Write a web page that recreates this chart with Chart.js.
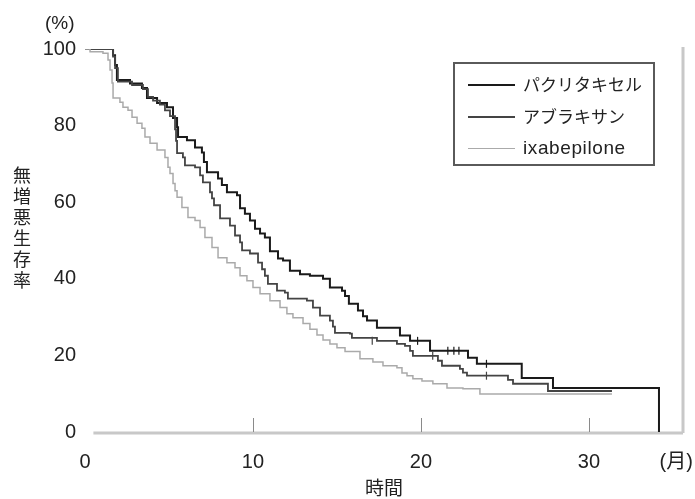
<!DOCTYPE html>
<html><head><meta charset="utf-8">
<script src="https://cdn.jsdelivr.net/npm/chart.js@4.4.1/dist/chart.umd.min.js"></script>
<style>
html,body{margin:0;padding:0;background:#fff;}
#wrap{position:relative;width:695px;height:499px;overflow:hidden;}
#c{position:absolute;left:0;top:0;}
.t{position:absolute;color:#222;font-family:"Liberation Sans",Arial,sans-serif;white-space:nowrap;}
#pct{left:45px;top:12px;font-size:19px;}
#ytitle{left:13px;top:166px;font-family:"Noto Sans CJK JP",sans-serif;font-size:18px;writing-mode:vertical-rl;letter-spacing:3px;line-height:18px;}
#legend{position:absolute;left:453px;top:62px;width:202px;height:104px;box-sizing:border-box;border:2px solid #5a5a5a;}
.row{position:absolute;left:0;width:100%;height:32px;}
.ln{position:absolute;left:13px;width:47px;top:15px;}
.lt{position:absolute;left:68px;top:3px;color:#222;}
.jp{font-family:"Noto Sans CJK JP",sans-serif;font-size:17px;line-height:24px;}
.en{font-family:"Liberation Sans",Arial,sans-serif;font-size:19px;letter-spacing:0.6px;line-height:24px;}
</style></head><body>
<div id="wrap">
<canvas id="c" width="695" height="499"></canvas>
<div class="t" id="pct">(%)</div>
<div class="t" id="ytitle">無増悪生存率</div>
<div id="legend">
  <div class="row" style="top:5px"><div class="ln" style="border-top:2px solid #1a1a1a"></div><div class="lt jp">パクリタキセル</div></div>
  <div class="row" style="top:37px"><div class="ln" style="border-top:2px solid #444"></div><div class="lt jp">アブラキサン</div></div>
  <div class="row" style="top:69px"><div class="ln" style="border-top:1.5px solid #aaa"></div><div class="lt en">ixabepilone</div></div>
</div>
</div>
<script>
// ---- data (months, % progression-free) ----
const seriesNames = ['パクリタキセル', 'アブラキサン', 'ixabepilone'];

const paclitaxelMonths = [0,1.67,1.79,1.9,2.68,3.39,3.69,4.29,4.88,5.24,5.48,5.54,6.07,6.55,6.96,7.08,7.26,7.92,8.15,8.45,9.05,9.23,9.52,9.82,10.12,10.42,10.71,11.01,11.49,11.79,12.2,12.8,13.39,14.17,14.58,15.3,15.48,15.71,16.25,16.55,16.79,17.38,18.75,19.35,20.54,22.8,23.33,26.0,27.86,34.17];
const paclitaxelPFS    = [100,98.4,95.8,91.9,91.0,89.8,87.2,85.9,84.8,82.0,79.6,77.0,76.2,74.3,73.0,70.5,67.8,66.2,64.5,62.6,61.8,58.4,57.0,55.2,53.1,51.8,50.8,47.2,45.3,44.8,42.1,41.2,40.8,40.0,37.7,36.9,35.5,33.5,31.7,30.2,29.1,27.2,25.2,23.8,21.2,19.4,17.8,14.1,11.5,0];

const abraxaneMonths = [0,1.67,1.79,1.96,2.8,3.45,3.75,4.05,4.46,4.76,5.06,5.36,5.42,5.48,5.83,5.95,6.55,6.85,7.02,7.44,7.56,7.68,8.04,8.63,8.93,9.23,9.35,9.82,10.3,10.54,10.71,10.89,11.43,11.9,12.08,13.21,13.57,13.99,14.58,14.76,14.88,15.77,15.89,17.38,18.57,19.05,19.35,19.52,21.01,21.25,22.32,22.5,22.74,25.18,25.48,27.56,31.37];
const abraxanePFS    = [100,98.0,95.0,91.5,90.6,89.5,87.5,86.5,85.5,84.0,82.5,79.0,76.0,72.8,71.7,69.6,69.1,67.0,65.2,62.6,61.0,59.2,55.8,53.9,51.3,49.5,47.4,46.6,44.2,42.5,40.8,38.7,36.9,36.4,34.8,34.3,32.5,30.4,29.1,27.5,25.9,25.7,24.6,23.8,23.0,22.5,21.2,19.9,18.6,17.3,16.5,15.5,14.7,13.6,12.6,10.7,10.7];

const ixabepiloneMonths = [0,0.3,1.07,1.37,1.49,1.61,1.67,2.08,2.26,2.56,2.8,3.1,3.39,3.57,3.87,4.29,4.76,4.94,5.06,5.24,5.36,5.48,5.77,6.13,6.55,6.85,7.14,7.56,7.92,8.45,8.93,9.23,9.64,10.0,10.42,11.01,11.61,12.02,12.38,12.98,13.39,13.81,14.17,14.58,15.0,15.48,16.37,17.14,17.74,18.57,18.87,19.17,19.52,20.06,20.71,21.55,22.5,23.51,31.37];
const ixabepilonePFS    = [100,99.3,98.9,97.1,94.5,91.1,87.2,86.1,84.8,84.0,82.2,80.6,79.3,77.0,75.4,73.6,71.7,69.1,67.5,64.9,63.0,61.3,58.6,56.0,55.2,53.4,50.8,48.2,45.5,44.2,42.9,40.8,39.5,37.7,36.1,34.3,32.5,30.9,29.8,28.3,26.8,25.3,24.0,23.0,22.0,21.0,19.1,18.3,17.3,16.8,15.4,14.7,13.9,13.3,12.6,11.5,11.3,9.9,9.9];

// censoring marks
const paclitaxelCensorMonths = [19.8,21.6,21.96,22.26,23.9];
const paclitaxelCensorPFS    = [23.8,21.2,21.2,21.2,17.8];
const abraxaneCensorMonths = [17.1,20.7,23.9];
const abraxaneCensorPFS    = [23.8,19.9,14.7];

const xTickValues = [0,10,20,30,35.2];
const xTickLabels = ['0','10','20','30','(月)'];
const yTickValues = [0,20,40,60,80,100];
const xAxisTitle = '時間';

const colors = ['#1a1a1a','#444444','#aaaaaa'];
const widths = [2,1.8,1.5];

function pts(xs, ys){ return xs.map((x,i)=>({x:x,y:ys[i]})); }

const frame = {
  id:'frame',
  beforeDatasetsDraw(chart){
    const {ctx, chartArea:a, scales:{x}} = chart;
    ctx.save();
    ctx.strokeStyle = '#c8c8c8';
    ctx.lineWidth = 3;
    ctx.beginPath();
    ctx.moveTo(x.getPixelForValue(0.5), a.bottom+1);
    ctx.lineTo(a.right, a.bottom+1);
    ctx.moveTo(a.right, a.top-2);
    ctx.lineTo(a.right, a.bottom+1);
    ctx.stroke();
    ctx.strokeStyle = '#8a8a8a';
    ctx.lineWidth = 1;
    [10,20,30].forEach(v=>{
      const px = Math.round(x.getPixelForValue(v))+0.5;
      ctx.beginPath(); ctx.moveTo(px, a.bottom-14); ctx.lineTo(px, a.bottom); ctx.stroke();
    });
    ctx.restore();
  }
};

const ds = [
  {label:seriesNames[0], data:pts(paclitaxelMonths,paclitaxelPFS)},
  {label:seriesNames[1], data:pts(abraxaneMonths,abraxanePFS)},
  {label:seriesNames[2], data:pts(ixabepiloneMonths,ixabepilonePFS)}
].map((d,i)=>Object.assign(d,{borderColor:colors[i],borderWidth:widths[i],stepped:'before',pointRadius:0,fill:false,tension:0,order:3-i}));

ds.push({label:'c1',data:pts(paclitaxelCensorMonths,paclitaxelCensorPFS),showLine:false,pointStyle:'line',rotation:90,pointRadius:4,borderColor:colors[0],borderWidth:1.2});
ds.push({label:'c2',data:pts(abraxaneCensorMonths,abraxaneCensorPFS),showLine:false,pointStyle:'line',rotation:90,pointRadius:4,borderColor:colors[1],borderWidth:1.2});

new Chart(document.getElementById('c'), {
  type:'line',
  data:{datasets:ds},
  plugins:[frame],
  options:{
    responsive:false,
    animation:false,
    layout:{autoPadding:false, padding:{left:0,right:12,top:49,bottom:0}},
    plugins:{legend:{display:false},tooltip:{enabled:false}},
    scales:{
      x:{
        type:'linear', min:0, max:35.6,
        grid:{display:false, drawTicks:false},
        border:{display:false},
        afterBuildTicks:(s)=>{ s.ticks = xTickValues.map(v=>({value:v})); },
        afterFit:(s)=>{ s.height = 67; s.paddingLeft = 0; s.paddingRight = 0; },
        ticks:{
          padding:18, maxRotation:0, autoSkip:false, color:'#222',
          font:{family:'"Liberation Sans", Arial, "Noto Sans CJK JP", sans-serif', size:20},
          callback:(v,i)=>xTickLabels[i]
        },
        title:{display:true,text:xAxisTitle,color:'#222',padding:{top:0,bottom:0},
          font:{family:'"Noto Sans CJK JP", sans-serif', size:19}}
      },
      y:{
        type:'linear', min:0, max:100,
        grid:{display:false, drawTicks:false},
        border:{display:false},
        afterBuildTicks:(s)=>{ s.ticks = yTickValues.map(v=>({value:v})); },
        afterFit:(s)=>{ s.width = 85; s.paddingTop = 0; s.paddingBottom = 0; },
        ticks:{padding:9, color:'#222', font:{family:'"Liberation Sans", Arial, sans-serif', size:20}}
      }
    }
  }
});
</script>
</body></html>
